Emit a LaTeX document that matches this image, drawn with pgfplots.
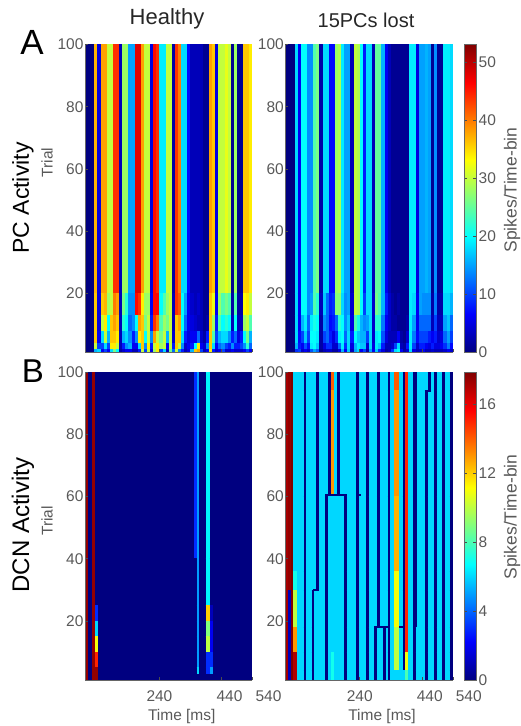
\documentclass[border=0pt]{standalone}
\usepackage{fontspec}
\setmainfont{Liberation Sans}
\usepackage{pgfplots}
\usepackage{pgfplotstable}
\pgfplotsset{compat=1.18}

\pgfplotstableread{
x t u v w p q
0 0 0 0 0 0 0
10 0 0 0 0 0 0
20 0 0 0 0 0 0
30 37 36 36 36 30 16
40 5 5 5 6 10 18
50 38 36 30 18 10 6
60 38 37 34 30 18 10
70 30 28 20 16 10 6
80 30 30 36 36 34 18
90 44 40 38 36 34 26
100 44 38 36 34 30 20
110 3 3 3 3 3 2
120 28 26 22 16 8 4
130 28 22 20 18 14 6
140 15 14 12 14 16 6
150 15 14 14 8 6 3
160 48 46 20 14 6 3
170 48 44 38 34 18 8
180 38 34 36 36 36 30
190 30 28 26 20 14 10
200 30 28 30 30 34 30
210 5 6 8 14 8 5
220 46 46 44 38 30 28
230 44 46 40 30 34 34
240 19 20 24 26 28 10
250 19 24 28 30 30 18
260 30 28 26 16 6 3
270 30 30 30 30 30 26
280 2 3 3 4 8 12
290 44 44 36 36 36 30
300 40 42 38 36 30 14
310 18 20 20 18 14 8
320 18 15 12 8 4 3
330 7 6 6 5 6 5
340 3 4 5 6 8 16
350 3 3 4 6 20 36
360 3 4 3 12 34 38
370 3 3 3 4 6 10
380 1 1 1 2 4 3
390 1 1 2 8 14 6
400 38 36 36 36 36 34
410 36 32 28 24 18 8
420 5 6 8 10 6 4
430 30 28 24 16 12 6
440 30 24 20 18 14 10
450 32 26 22 18 10 4
460 30 24 20 14 8 4
470 1 2 3 8 14 6
480 28 24 20 12 8 4
490 1 2 3 5 8 4
500 1 2 3 8 10 4
510 36 33 28 20 14 6
520 36 34 30 26 22 10
530 34 30 24 16 12 6
540 34 30 24 16 12 6
}\tabAL

\pgfplotstableread{
x t u v w p q
0 0 0 0 0 0 0
10 0 0 0 0 0 0
20 0 0 0 0 0 0
30 18 18 18 18 16 9
40 6 6 6 7 8 10
50 20 20 16 10 6 4
60 20 20 19 17 11 6
70 14 14 12 10 7 4
80 14 15 19 20 19 11
90 24 24 21 20 20 15
100 26 22 20 19 17 12
110 2 3 2 2 2 1
120 18 17 14 10 5 3
130 18 12 12 12 9 4
140 7 8 7 8 9 4
150 7 9 8 5 4 2
160 28 27 12 9 4 2
170 29 27 22 19 12 5
180 19 18 20 20 19 16
190 15 14 14 12 9 6
200 15 15 17 18 18 17
210 3 4 5 8 5 3
220 30 30 24 20 16 15
230 29 29 21 17 19 18
240 20 20 16 16 17 6
250 8 10 14 16 17 10
260 18 18 15 10 4 2
270 18 18 18 18 18 15
280 3 4 4 4 5 6
290 25 26 22 19 19 17
300 25 24 22 20 17 9
310 16 16 13 11 8 5
320 6 8 6 5 3 2
330 3 4 4 3 3 3
340 1 2 2 3 4 9
350 1 1 2 3 10 18
360 1 2 1 6 18 20
370 1 1 1 2 3 6
380 1 1 1 1 2 2
390 1 1 2 4 8 4
400 19 19 19 19 19 18
410 19 18 15 13 10 5
420 5 6 6 7 4 3
430 15 15 12 10 8 4
440 15 14 12 10 8 6
450 16 14 12 10 6 3
460 15 14 12 8 5 3
470 1 2 3 6 8 4
480 14 13 10 8 5 3
490 1 2 3 4 5 3
500 1 2 3 5 6 3
510 19 18 15 12 9 4
520 19 18 17 15 13 6
530 18 16 12 10 7 4
540 18 16 12 10 7 4
}\tabAR

\pgfplotstableread{
x a b c d e f g h
0 17.5 17.5 17.5 17.5 17.5 17.5 17.5 17.5
10 0 0 0 0 0 0 0 0
21 17.5 17.5 17.5 17.5 17.5 17.5 17.5 17.5
33 0 0 3 6 11 15 17.5 17.5
42 0 0 0 0 0 0 0 0
350 3 0 0 0 0 0 0 0
360 5 5 5 5 5 5 6 0
369 0 0 0 0 0 0 0 0
389 6.5 6.5 12 9 10 3 3 0
402 0 0 1 2 2 3 5 0
412 0 0 0 0 0 0 0 0
540 0 0 0 0 0 0 0 0
}\tabBL

\pgfplotstableread{
x a b c d e f g h
0 17.2 17.2 17.2 17.2 17.2 17.2 17.2 17.2
10 17.5 17.5 17.5 17.5 1 1 1 1
17 18 18 18 18 18 18 18 18
26 6 6 6 7 10 13 17 17
37 6 6 6 6 6 6 6 6
59 0 0 0 0 0 0 0 0
68 6 6 6 6 6 6 6 6
85 6 6 6 6 0 0 0 0
94 6 6 6 6 6 6 6 6
100 0 0 0 0 6 6 6 6
109 6 6 6 6 6 6 6 6
129 6 6 0 0 0 0 0 0
138 0 0 6 6 6 6 6 6
147 14 13 6 6 6 6 7 7
157 6 6 6 6 6 6 6 6
167 0 0 6 6 6 6 6 6
176 6 6 6 6 6 6 6 6
189 6 6 0 0 0 0 0 0
198 6 6 6 6 6 6 6 6
228 0 0 0 0 0 0 0 0
237 6 6 6 6 6 6 6 6
260 0 0 0 0 0 0 0 0
269 6 6 6 6 6 6 6 6
286 6 6 6 6 6 0 0 0
295 0 0 0 0 0 6 6 6
305 6 6 6 6 6 6 6 6
315 6 6 6 6 6 0 0 0
324 6 6 6 6 6 6 6 6
330 0 0 0 0 0 0 0 0
339 6 6 6 6 6 6 6 6
351 14 13 12.5 11 11 10 10 6
368 6 6 6 6 6 6 6 6
378 0 0 0 0 0 0 0 6
386 15 15 15 15 15 15 11 8
396 6 6 6 6 6 6 6 6
411 0 0 0 0 0 0 0 0
420 0 0 0 0 0 6 6 6
426 6 6 6 6 6 6 6 6
450 6 0 0 0 0 0 0 0
459 0 6 6 6 6 6 6 6
469 6 6 6 6 6 6 6 6
479 0 0 0 0 0 0 0 0
488 6 6 6 6 6 6 6 6
506 0 0 0 0 0 0 0 0
515 6 6 6 6 6 6 6 6
530 0 0 0 0 0 0 0 0
540 0 0 0 0 0 0 0 0
}\tabBR

\pgfplotsset{
  bandst/.style={mesh, shader=flat corner, point meta=explicit, forget plot, line width=#1*3.11pt+0.4pt},
  panel/.style={
    scale only axis, width=167.5pt, height=308pt,
    xmin=0, xmax=540, ymin=1, ymax=100,
    colormap/jet, axis on top,
    axis x line*=bottom, axis y line*=left,
    axis line style={-, black!60, line width=1pt},
    tick style={black!70, line width=0.5pt}, major tick length=3pt,
    tick align=inside,
    ytick={20,40,60,80,100},
    xtick={240,440,540},
    tick label style={text=black!65, font=\fontsize{15.5}{16}\selectfont},
    label style={text=black!65, font=\fontsize{15.5}{16}\selectfont},
    /pgf/number format/assume math mode=true,
    yticklabel style={xshift=2pt},
    xticklabel style={yshift=-7pt},
  },
  cbar/.style 2 args={
    colorbar, colorbar shift/.style={xshift=11.3pt},
    colorbar style={
      at={(parent axis.north east)}, anchor=north west,
      width=12pt, ytick={#1},
      ylabel={Spikes/Time-bin},
      ylabel style={text=black!65, font=\fontsize{17.5}{18}\selectfont, at={(rel axis cs:1,0.5)}, anchor=center, yshift=-36pt, xshift=#2},
      axis line style={black!60},
      tick style={black!70}, major tick length=3pt, tick align=inside,
      yticklabel style={text=black!65, font=\fontsize{15.5}{16}\selectfont, xshift=-1pt},
      /pgf/number format/assume math mode=true,
    },
  },
}
\newcommand\band[4]{\addplot[bandst=#4] table[x=x, y expr=#3, meta=#2] {#1};}

\begin{document}
\begin{tikzpicture}[x=1pt,y=1pt]
\path[use as bounding box] (0,0) rectangle (520,726);

% Panel A, healthy
\begin{axis}[panel, at={(85pt,373.5pt)}, point meta min=0, point meta max=53,
    xticklabels={}, ylabel={Trial},
    ylabel style={at={(rel axis cs:0,0.5)}, anchor=center, yshift=38pt, xshift=36pt}]
\band{\tabAL}{t}{60}{80}
\band{\tabAL}{u}{16.5}{7}
\band{\tabAL}{v}{10.5}{5}
\band{\tabAL}{w}{6}{4}
\band{\tabAL}{p}{3}{2}
\band{\tabAL}{q}{1.5}{1}
\end{axis}

% Panel A, 15 PCs lost
\begin{axis}[panel, at={(285.3pt,373.5pt)}, point meta min=0, point meta max=53,
    xticklabels={}, cbar={0,10,20,30,40,50}{8.5pt}]
\band{\tabAR}{t}{60}{80}
\band{\tabAR}{u}{16.5}{7}
\band{\tabAR}{v}{10.5}{5}
\band{\tabAR}{w}{6}{4}
\band{\tabAR}{p}{3}{2}
\band{\tabAR}{q}{1.5}{1}
\end{axis}

% Panel B, healthy
\begin{axis}[panel, at={(85pt,46pt)}, point meta min=0, point meta max=17.85,
    xticklabels={240,\hspace*{16pt}440,\hspace*{32pt}540},
    xlabel={Time [ms]}, ylabel={Trial},
    xlabel style={at={(rel axis cs:0.5,0)}, anchor=center, yshift=-36pt, xshift=13pt},
    ylabel style={at={(rel axis cs:0,0.5)}, anchor=center, yshift=38pt, xshift=5pt}]
\band{\tabBL}{a}{70}{60}
\band{\tabBL}{b}{32.5}{15}
\band{\tabBL}{c}{22.5}{5}
\band{\tabBL}{d}{17.5}{5}
\band{\tabBL}{e}{12.5}{5}
\band{\tabBL}{f}{7.5}{5}
\band{\tabBL}{g}{4}{2}
\band{\tabBL}{h}{2}{2}
\end{axis}

% Panel B, 15 PCs lost
\begin{axis}[panel, at={(285.3pt,46pt)}, point meta min=0, point meta max=17.85,
    xticklabels={240,\hspace*{16pt}440,\hspace*{32pt}540},
    xlabel={Time [ms]},
    xlabel style={at={(rel axis cs:0.5,0)}, anchor=center, yshift=-36pt, xshift=13pt},
    cbar={0,4,8,12,16}{9pt}]
\band{\tabBR}{a}{97}{6}
\band{\tabBR}{b}{77}{34}
\band{\tabBR}{c}{48}{24}
\band{\tabBR}{d}{33}{6}
\band{\tabBR}{e}{24}{12}
\band{\tabBR}{f}{14}{8}
\band{\tabBR}{g}{7}{6}
\band{\tabBR}{h}{2.5}{3}
\addplot[bandst=0.5] coordinates {(129,60.5)[0] (198,60.5)[0]};
\addplot[bandst=0.5] coordinates {(232,60.5)[0] (243,60.5)[0]};
\addplot[bandst=0.5] coordinates {(89,30)[0] (109,30)[0]};
\addplot[bandst=0.5] coordinates {(286,18)[0] (339,18)[0]};
\addplot[bandst=0.5] coordinates {(368,18)[0] (386,18)[0]};
\addplot[bandst=0.5] coordinates {(450,94)[0] (469,94)[0]};
\end{axis}

\node[font=\fontsize{22}{24}\selectfont, text=black!85] at (167,707) {Healthy};
\node[font=\fontsize{20}{22}\selectfont, text=black!85] at (366,706) {15PCs lost};
\node[font=\fontsize{35}{36}\selectfont] at (32,683.5) {A};
\node[font=\fontsize{33}{34}\selectfont] at (33,355) {B};
\node[font=\fontsize{23}{24}\selectfont, rotate=90] at (23,528) {PC Activity};
\node[font=\fontsize{24}{26}\selectfont, rotate=90] at (23,201) {DCN Activity};
\end{tikzpicture}
\end{document}
